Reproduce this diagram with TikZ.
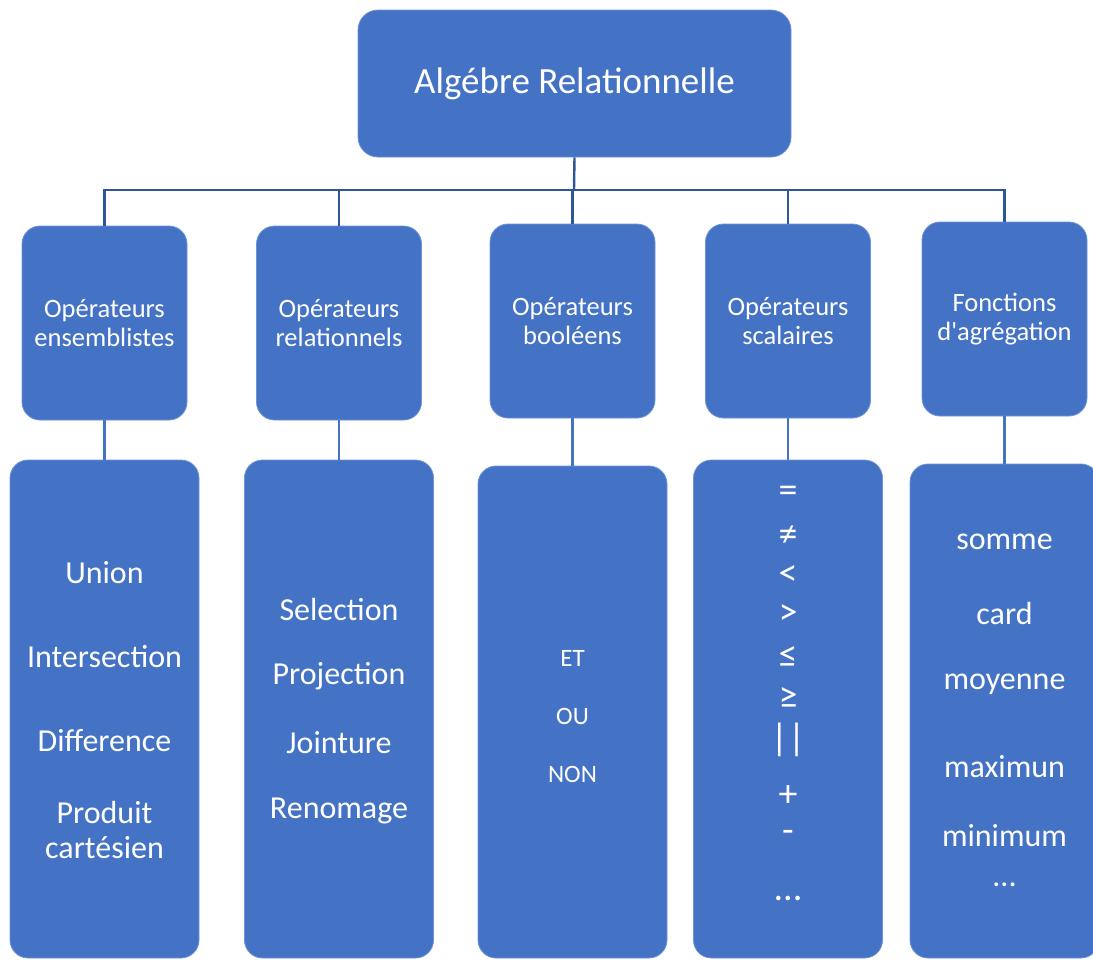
\documentclass[tikz,border=0pt]{standalone}
\usepackage{fontspec}
\setmainfont{Carlito}
\definecolor{boxblue}{HTML}{4472C4}
\definecolor{edgeblue}{HTML}{6F93D6}
\definecolor{linkblue}{HTML}{2F5597}

\begin{document}
\begin{tikzpicture}[x=1pt,y=-1pt,
  box/.style={draw=edgeblue, line width=0.8pt, fill=boxblue, text=white,
    align=center, inner sep=0pt, rounded corners=18pt},
  rootbox/.style={box, minimum width=433pt, minimum height=147pt,
    rounded corners=20pt, font=\fontsize{37}{44}\selectfont},
  catbox/.style={box, minimum width=165pt, minimum height=194pt,
    font=\fontsize{26.5}{29}\selectfont},
  listbox/.style={box, minimum width=189pt},
  item/.style={text=white, inner sep=0pt, align=center,
    font=\fontsize{32}{35}\selectfont},
  symitem/.style={item, font=\fontsize{38}{40}\selectfont, yshift=-3pt},
  smallitem/.style={item, font=\fontsize{25}{28}\selectfont},
  tree/.style={draw=linkblue, line width=2.4pt},
  stem/.style={draw=boxblue, line width=2.8pt}]

\useasboundingbox (0,0) rectangle (1093,962);
\clip (0,0) rectangle (1093,962);

% root
\node[rootbox] (root) at (574.5,83.5) {Algébre Relationnelle};

% categories
\node[catbox] (c1) at (104.5,323) {Opérateurs\\ensemblistes};
\node[catbox] (c2) at (339,323)   {Opérateurs\\relationnels};
\node[catbox] (c3) at (572.5,321) {Opérateurs\\booléens};
\node[catbox] (c4) at (788,321)   {Opérateurs\\scalaires};
\node[catbox] (c5) at (1004.5,319){Fonctions\\d\textquotesingle agrégation};

% lists
\node[listbox, minimum height=498pt] (l1) at (104.5,709) {};
\node[listbox, minimum height=498pt] (l2) at (339,709) {};
\node[listbox, minimum height=492pt] (l3) at (572.5,712) {};
\node[listbox, minimum height=498pt] (l4) at (788,709) {};
\node[listbox, minimum height=494pt] (l5) at (1004.5,711) {};

% tree connectors
\coordinate (hub) at (574,190);
\draw[tree] (root.south) -- (hub);
\draw[tree] (hub) -| (c1.north);
\draw[tree] (hub) -| (c2.north);
\draw[tree] (hub) -| (c3.north);
\draw[tree] (hub) -| (c4.north);
\draw[tree] (hub) -| (c5.north);

\foreach \i in {1,...,5}{\draw[stem] (c\i.south) -- (l\i.north);}

% ensemblistes
\node[item] (u1) at (104.5,573) {Union};
\node[item] (u2) at (104.5,657) {Intersection};
\node[item] (u3) at (104.5,741) {Difference};
\node[item] (u4) at (104.5,830) {Produit\\cartésien};

% relationnels
\node[item] (r1) at (339,609) {Selection};
\node[item] (r2) at (339,676) {Projection};
\node[item] (r3) at (339,743) {Jointure};
\node[item] (r4) at (339,811) {Renomage};

% booleens
\node[smallitem] (b1) at (572.5,658) {ET};
\node[smallitem] (b2) at (572.5,716) {OU};
\node[smallitem] (b3) at (572.5,774) {NON};

% scalaires
\node[symitem] (s1) at (788,491) {=};
\node[symitem] (s2) at (788,533) {≠};
\node[symitem] (s3) at (788,573) {<};
\node[symitem] (s4) at (788,612) {>};
\node[symitem] (s5) at (788,654) {≤};
\node[symitem] (s6) at (788,695) {≥};
\node[symitem] (s7) at (788,737) {||};
\node[symitem] (s8) at (788,793) {+};
\node[symitem] (s9) at (788,833) {-};
\node[symitem] (s10) at (788,895) {...};

% agregation
\node[item] (a1) at (1004.5,542) {somme};
\node[item] (a2) at (1004.5,613) {card};
\node[item] (a3) at (1004.5,684) {moyenne};
\node[item] (a4) at (1004.5,767) {maximun};
\node[item] (a5) at (1004.5,836) {minimum};
\node[item] (a6) at (1004.5,885) {...};
\end{tikzpicture}
\end{document}
